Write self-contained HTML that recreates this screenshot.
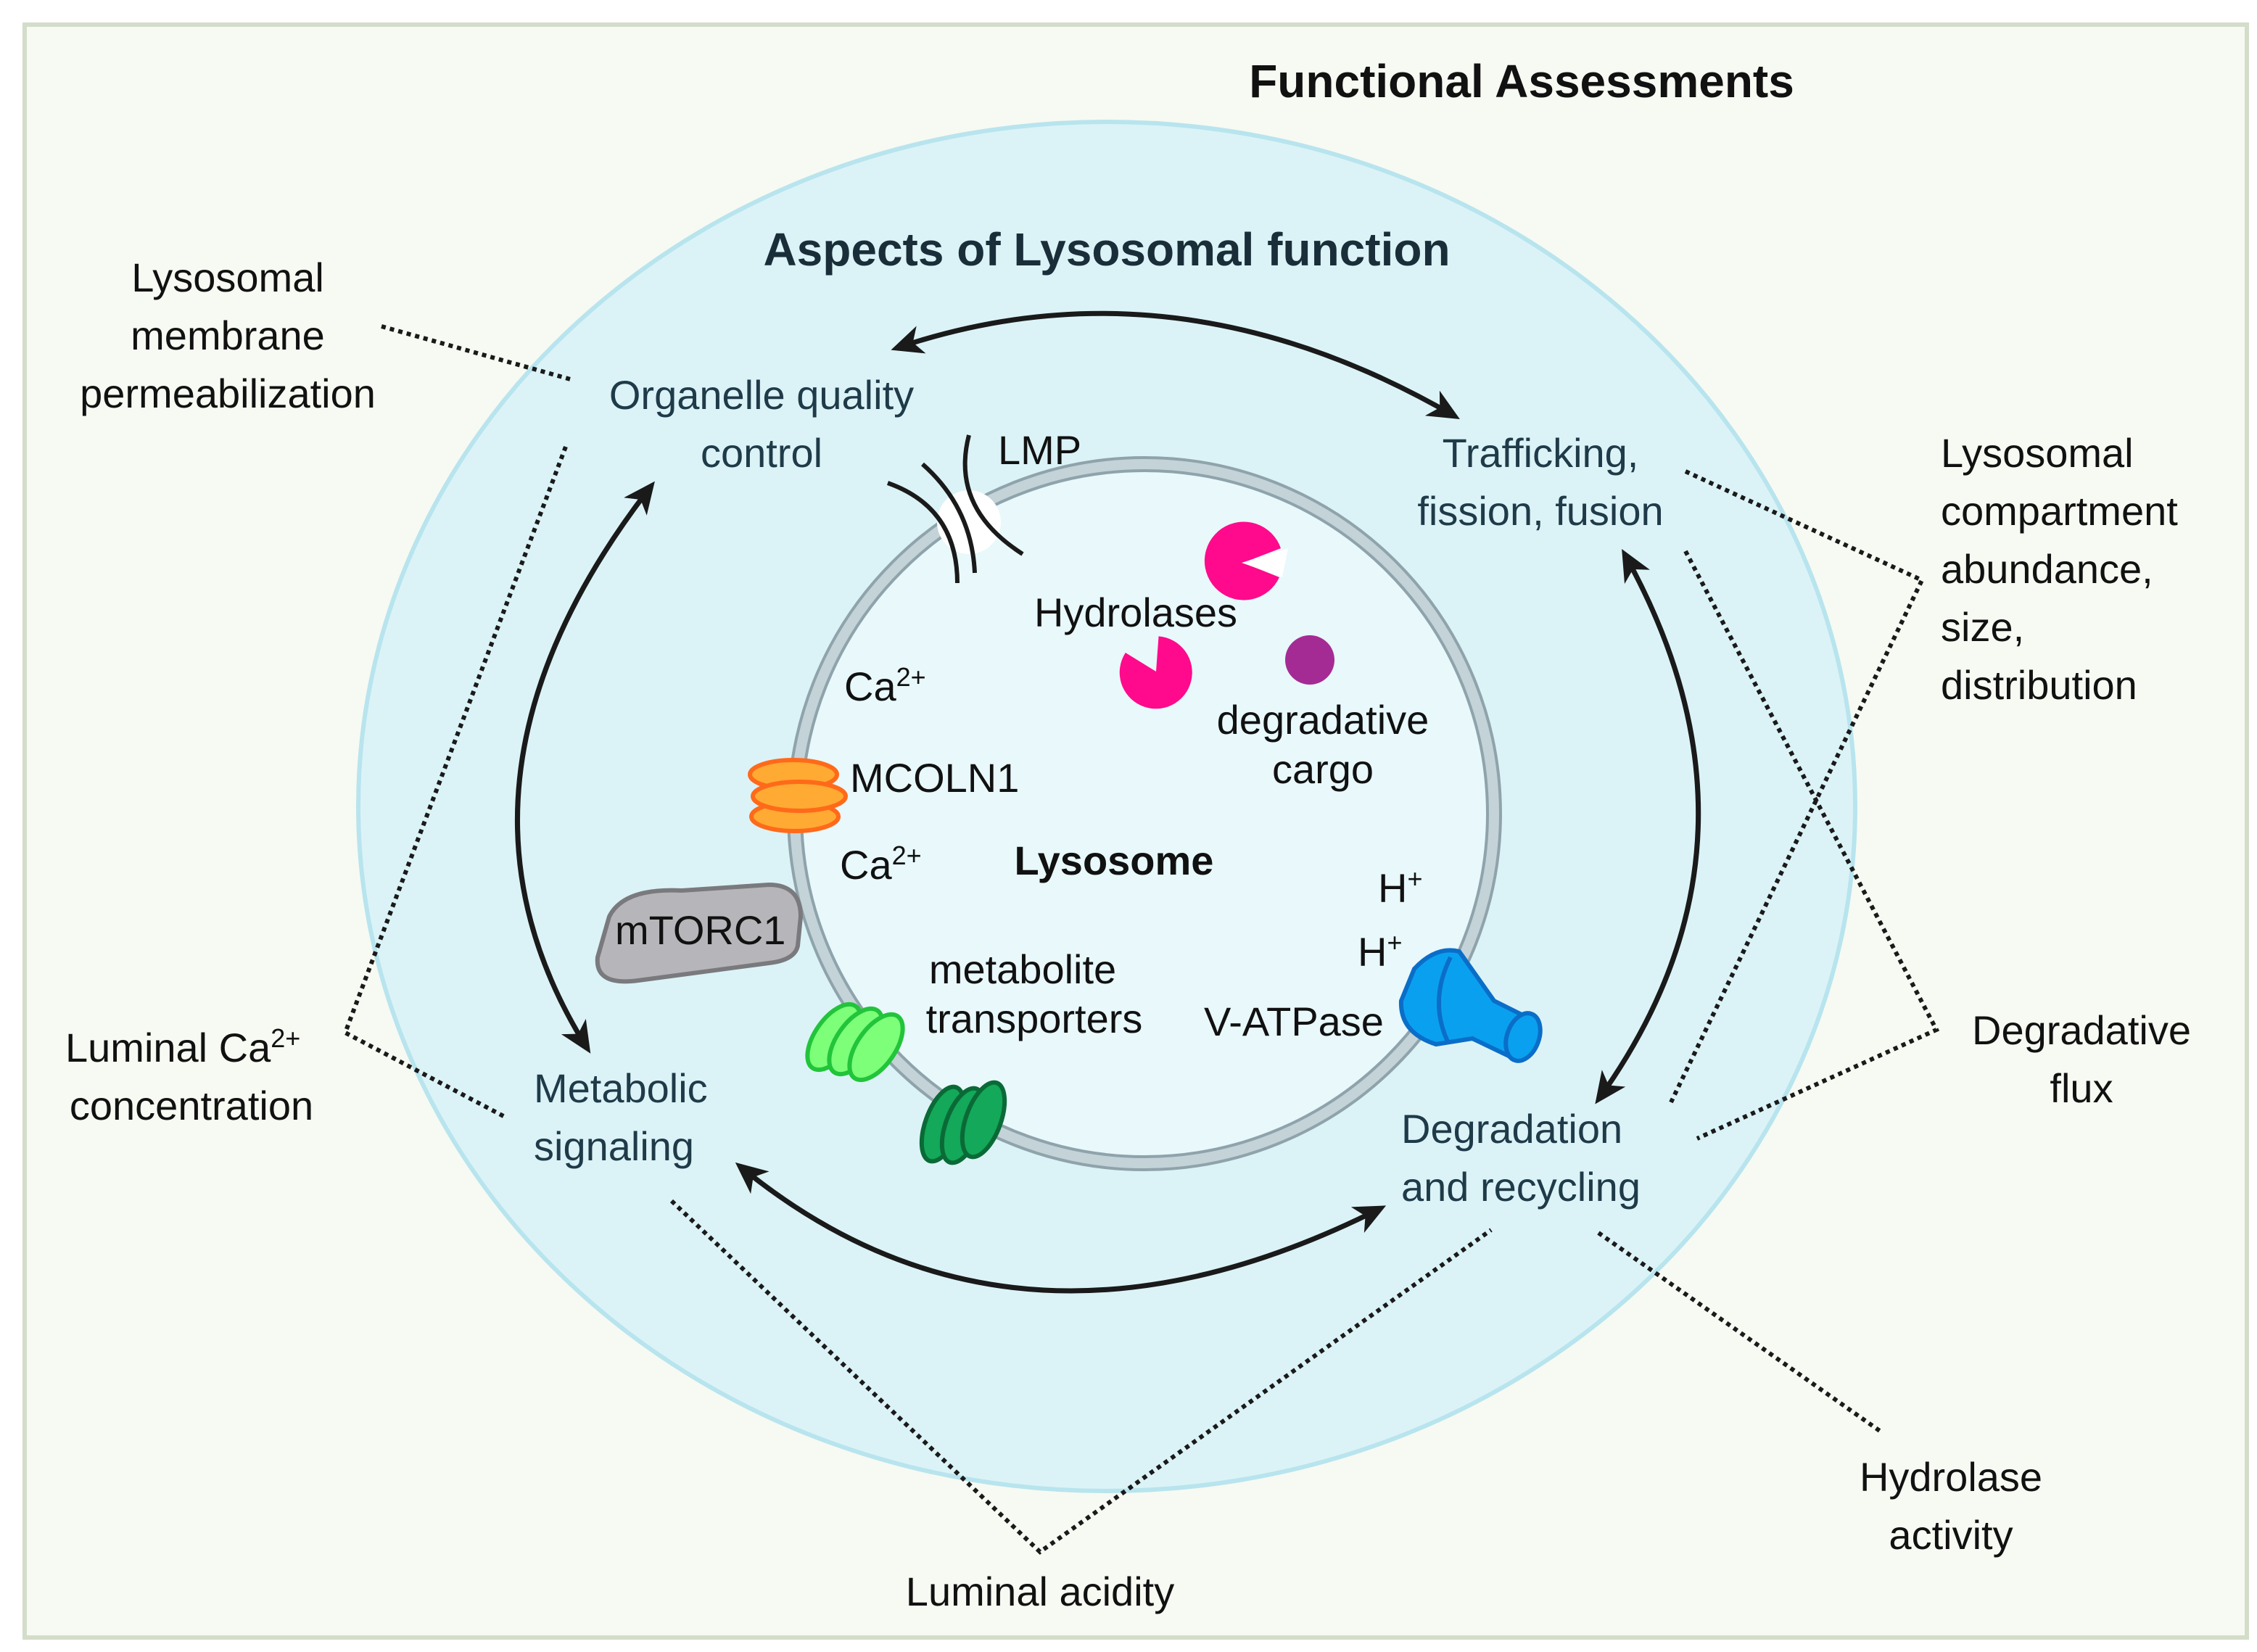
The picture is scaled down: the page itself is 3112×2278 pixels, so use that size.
<!DOCTYPE html>
<html><head><meta charset="utf-8"><style>
html,body{margin:0;padding:0;background:#fff;}
svg{display:block;}
text{font-family:"Liberation Sans",sans-serif;}
</style></head><body>
<svg width="3112" height="2278" viewBox="0 0 1556 1139" xmlns="http://www.w3.org/2000/svg">
<defs>
<marker id="ah" markerWidth="22" markerHeight="22" refX="18" refY="11" orient="auto-start-reverse" markerUnits="userSpaceOnUse" viewBox="0 0 22 22">
<path d="M0,1 L22,11 L0,21 L6,11 Z" fill="#1a1a1a"/>
</marker>
</defs>
<rect x="0" y="0" width="1556" height="1139" fill="#ffffff"/>
<rect x="17" y="17" width="1532" height="1112" fill="#f6faf2" stroke="#d3ddc9" stroke-width="3"/>
<ellipse cx="763" cy="556" rx="516" ry="472" fill="#dbf3f7" stroke="#b8e4ee" stroke-width="3"/>
<circle cx="789" cy="561" r="241" fill="#e8f8fb" stroke="#8fa3ab" stroke-width="11"/>
<circle cx="789" cy="561" r="241" fill="none" stroke="#c4d3d8" stroke-width="7"/>

<text x="1049" y="67" font-size="32" font-weight="bold" text-anchor="middle" fill="#111">Functional Assessments</text>
<text x="763" y="183" font-size="32" font-weight="bold" text-anchor="middle" fill="#1a2e3a">Aspects of Lysosomal function</text>

<g fill="none" stroke="#1a1a1a" stroke-width="3.5" marker-start="url(#ah)" marker-end="url(#ah)">
<path d="M618,240 Q810,175 1003,287"/>
<path d="M1120,382 Q1230,580 1102,758"/>
<path d="M510,804 Q700,960 952,833"/>
<path d="M449,335 Q290,540 405,723"/>
</g>

<g fill="none" stroke="#1a1a1a" stroke-width="3" stroke-dasharray="3,3">
<path d="M263,225 L395,262"/>
<path d="M390,308 L238,712 L348,770"/>
<path d="M1162,325 L1325,400 L1152,760"/>
<path d="M1162,380 L1335,710 L1170,785"/>
<path d="M463,828 L717,1070 L1028,848"/>
<path d="M1102,850 L1298,988"/>
</g>

<circle cx="668" cy="360" r="22" fill="#fff"/>
<g fill="none" stroke="#1a1a1a" stroke-width="3">
<path d="M612,333 Q660,350 660,402"/>
<path d="M636,320 Q670,350 672,395"/>
<path d="M668,300 Q655,350 705,382"/>
</g>

<path d="M857,388 L883,378 A27,27 0 1 0 882,398 Z" fill="#ff0a8c"/>
<path d="M856,388 L888,378 L884,398 Z" fill="#fff"/>
<path d="M797,463 L805,440 A25,25 0 1 1 780,445 Z" transform="rotate(-15 797 463)" fill="#ff0a8c"/>
<circle cx="903" cy="455" r="17" fill="#a52b94"/>

<g fill="#ffaa33" stroke="#ff6a1a" stroke-width="3">
<ellipse cx="548" cy="563" rx="30" ry="10"/>
<ellipse cx="547" cy="534" rx="30" ry="10"/>
<ellipse cx="551" cy="549" rx="32" ry="10"/>
</g>

<path d="M420,632 Q430,612 470,614 L530,610 Q552,610 552,632 L550,652 Q548,662 530,664 L440,676 Q410,680 412,660 Z" fill="#b6b6ba" stroke="#7a7a7e" stroke-width="3"/>

<g fill="#7dff7a" stroke="#22c43a" stroke-width="3">
<ellipse cx="575" cy="715" rx="13" ry="26" transform="rotate(35 575 715)"/>
<ellipse cx="590" cy="718" rx="13" ry="26" transform="rotate(35 590 718)"/>
<ellipse cx="604" cy="722" rx="13" ry="26" transform="rotate(35 604 722)"/>
</g>
<g fill="#13a85a" stroke="#0a6a36" stroke-width="3">
<ellipse cx="650" cy="775" rx="12" ry="27" transform="rotate(20 650 775)"/>
<ellipse cx="664" cy="776" rx="12" ry="27" transform="rotate(20 664 776)"/>
<ellipse cx="678" cy="772" rx="12" ry="27" transform="rotate(20 678 772)"/>
</g>

<g fill="#0aa0f0" stroke="#0a6ec8" stroke-width="3">
<path d="M975,668 Q990,652 1006,656 L1030,690 L1050,700 L1040,728 L1015,716 L990,720 Q965,712 966,690 Z"/>
<ellipse cx="1050" cy="715" rx="11" ry="17" transform="rotate(20 1050 715)"/>
<path d="M1000,660 Q985,690 998,718" fill="none"/>
</g>

<g font-size="28" fill="#111">
<text x="157" y="201" text-anchor="middle">Lysosomal</text>
<text x="157" y="241" text-anchor="middle">membrane</text>
<text x="157" y="281" text-anchor="middle">permeabilization</text>
<text x="688" y="320">LMP</text>
<text x="1338" y="322">Lysosomal</text>
<text x="1338" y="362">compartment</text>
<text x="1338" y="402">abundance,</text>
<text x="1338" y="442">size,</text>
<text x="1338" y="482">distribution</text>
<text x="783" y="432" text-anchor="middle">Hydrolases</text>
<text x="582" y="483">Ca<tspan font-size="18" dy="-10">2+</tspan></text>
<text x="912" y="506" text-anchor="middle">degradative</text>
<text x="912" y="540" text-anchor="middle">cargo</text>
<text x="586" y="546">MCOLN1</text>
<text x="579" y="606">Ca<tspan font-size="18" dy="-10">2+</tspan></text>
<text x="768" y="603" text-anchor="middle" font-weight="bold">Lysosome</text>
<text x="950" y="622">H<tspan font-size="18" dy="-10">+</tspan></text>
<text x="936" y="666">H<tspan font-size="18" dy="-10">+</tspan></text>
<text x="424" y="651">mTORC1</text>
<text x="705" y="678" text-anchor="middle">metabolite</text>
<text x="713" y="712" text-anchor="middle">transporters</text>
<text x="830" y="714">V-ATPase</text>
<text x="1435" y="720" text-anchor="middle">Degradative</text>
<text x="1435" y="760" text-anchor="middle">flux</text>
<text x="45" y="732">Luminal Ca<tspan font-size="18" dy="-10">2+</tspan></text>
<text x="132" y="772" text-anchor="middle">concentration</text>
<text x="1345" y="1028" text-anchor="middle">Hydrolase</text>
<text x="1345" y="1068" text-anchor="middle">activity</text>
<text x="717" y="1107" text-anchor="middle">Luminal acidity</text>
</g>
<g font-size="28" fill="#1f3a48">
<text x="525" y="282" text-anchor="middle">Organelle quality</text>
<text x="525" y="322" text-anchor="middle">control</text>
<text x="1062" y="322" text-anchor="middle">Trafficking,</text>
<text x="1062" y="362" text-anchor="middle">fission, fusion</text>
<text x="368" y="760">Metabolic</text>
<text x="368" y="800">signaling</text>
<text x="966" y="788">Degradation</text>
<text x="966" y="828">and recycling</text>
</g>
</svg>
</body></html>
